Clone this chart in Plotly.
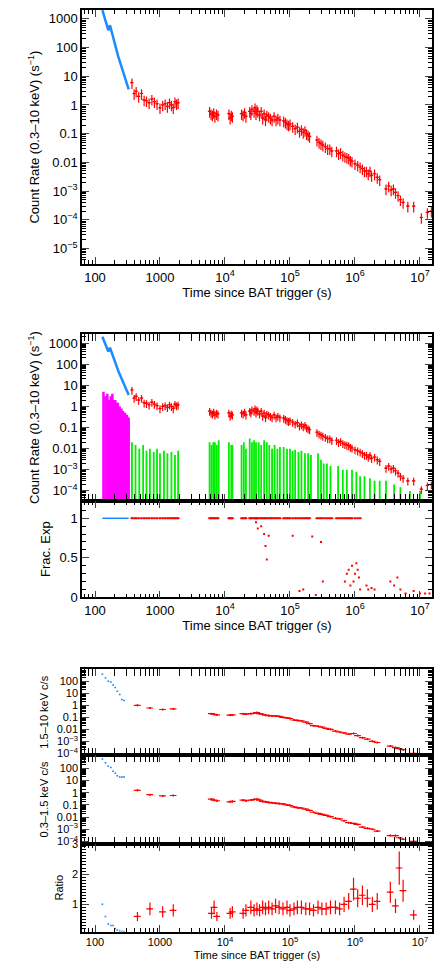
import plotly.graph_objects as go

# ---- data ----
t_wt = [130,140,150,160,170,180,190,200,215,230,250,270,290,310,330]
r_wt = [2000,1200,700,400,600,350,200,130,80,45,25,14,8,5,3.5]

t_pc = [370,400,430,470,520,570,620,680,750,820,900,1000,1100,1200,1300,1400,1500,1600,1700,1800,1900,
        5800,6100,6400,6700,7000,7400,7800, 11500,12000,12500,13000, 18000,19000,20000,21000, 24000,25000,26000,
        28000,29000,30000,31000,32000,34000,36000,38000,40000,42000,44000,47000,50000,53000,57000,61000,65000,70000,
        80000,85000,90000,95000,100000,110000,120000,130000,140000,150000,160000,170000,180000,190000,200000,
        260000,280000,300000,320000,350000,380000,410000,440000,
        520000,560000,600000,650000,700000,750000,800000,850000,900000,1000000,1100000,1200000,1300000,1400000,1500000,1600000,1700000,1800000,2000000,2200000,2400000,
        3000000,3300000,3600000,3900000,4200000,4600000,5000000,5500000,6500000,8000000,10500000,13000000,15000000]
r_pc = [6,2.5,3,2,2.5,1.5,1.4,1.2,1.6,1.3,1.1,0.8,1.0,1.1,0.9,1.2,1.0,0.8,1.3,1.1,1.2,
        0.6,0.5,0.45,0.55,0.4,0.5,0.45, 0.5,0.35,0.45,0.4, 0.5,0.45,0.55,0.4, 0.6,0.5,0.7,
        0.6,0.8,0.5,0.7,0.6,0.45,0.6,0.35,0.5,0.3,0.45,0.4,0.35,0.3,0.4,0.3,0.35,0.3,
        0.28,0.25,0.22,0.2,0.22,0.18,0.15,0.17,0.12,0.14,0.11,0.13,0.1,0.09,0.08,
        0.06,0.05,0.045,0.04,0.035,0.03,0.03,0.025,
        0.025,0.02,0.022,0.018,0.016,0.015,0.014,0.012,0.011,0.009,0.008,0.007,0.006,0.005,0.005,0.004,0.005,0.0035,0.004,0.003,0.0025,
        0.0012,0.0015,0.0011,0.0012,0.0009,0.0007,0.0005,0.0004,0.0003,0.0003,0.00012,0.00018,0.0002]

t_wbg = [135,145,155,165,175,185,195,205,215,225,240,255,270,290,310,330]
wbg_hi = [5,3,4,2,3,4,2,2,1.5,1.5,1,0.8,0.6,0.5,0.4,0.3]

t_bg = [370,420,480,550,620,700,800,900,1000,1150,1300,1500,1700,1900,
        5800,6200,6600,7000,7500,8000, 11500,12500,13000, 18000,19500,21000,
        24000,26000,28000,30000,33000,36000,40000,44000,48000,53000,58000,64000,70000,
        80000,90000,100000,110000,120000,135000,150000,170000,190000,210000,
        270000,300000,330000,370000,420000,
        550000,650000,750000,900000,1050000,1200000,1400000,1700000,2000000,2400000,
        3000000,4000000,5000000,7000000,10000000]
bg_hi = [0.02,0.015,0.01,0.015,0.008,0.01,0.007,0.01,0.006,0.008,0.006,0.007,0.005,0.008,
         0.02,0.015,0.02,0.02,0.015,0.025, 0.02,0.015,0.015, 0.015,0.02,0.01,
         0.03,0.02,0.025,0.02,0.02,0.015,0.025,0.02,0.015,0.01,0.015,0.01,0.012,
         0.012,0.01,0.01,0.008,0.009,0.007,0.008,0.006,0.006,0.005,
         0.006,0.003,0.002,0.002,0.0015,
         0.0015,0.001,0.001,0.001,0.0008,0.0005,0.0005,0.0004,0.0003,0.0003,
         0.0003,0.0002,0.00015,0.0001,0.0001]
bg_floor = 1e-5

frac_low_t = [30000,32000,36000,40000,42000,44000,47000,110000,220000,300000,320000,
              140000,160000,250000,700000,750000,800000,850000,900000,950000,1000000,1050000,1100000,1150000,1200000,
              1500000,1600000,1800000,2000000,3500000,4000000,4500000,5000000,6000000,8000000,10000000,12000000,14000000]
frac_low_v = [0.95,0.87,0.9,0.8,0.65,0.48,0.78,0.78,0.77,0.7,0.2,
              0.08,0.1,0.03,0.2,0.3,0.35,0.15,0.4,0.2,0.3,0.43,0.35,0.25,0.1,
              0.15,0.1,0.12,0.1,0.2,0.15,0.25,0.1,0.05,0.08,0.05,0.05,0.05]
frac_full = 1.0

tb_wt = [130,145,160,175,190,205,220,240,260,280]
hard_wt = [400,200,100,90,50,30,15,8,3,2.5]
soft_wt = [600,300,150,120,60,40,25,20,20,20]
ratio_wt = [1.0,0.6,0.35,0.3,0.3,0.2,0.15,0.12,0.1,0.1]

tb = [450,700,1100,1600,6200,6800,7500,12000,13000,19000,21000,25000,28000,31000,34000,38000,42000,47000,53000,60000,
      68000,78000,90000,100000,115000,130000,150000,175000,200000,230000,270000,310000,360000,420000,500000,580000,680000,
      800000,950000,1100000,1300000,1550000,1850000,2200000,3500000,4200000,4800000,5500000,8000000]
hard = [1.0,0.6,0.45,0.5,0.2,0.18,0.16,0.15,0.16,0.2,0.18,0.2,0.22,0.25,0.2,0.18,0.15,0.14,0.13,0.13,0.12,0.1,0.09,0.08,
        0.06,0.055,0.05,0.04,0.03,0.02,0.018,0.015,0.012,0.01,0.007,0.006,0.005,0.004,0.0045,0.003,0.002,0.0015,0.001,
        0.0008,0.0004,0.0003,0.00025,0.0002,0.0001]
soft = [1.6,0.7,0.55,0.6,0.3,0.25,0.22,0.18,0.2,0.25,0.22,0.25,0.28,0.3,0.25,0.2,0.18,0.16,0.15,0.14,0.13,0.12,0.1,0.09,
        0.07,0.06,0.055,0.045,0.035,0.025,0.02,0.017,0.014,0.011,0.008,0.007,0.005,0.0035,0.003,0.0025,0.0015,0.0012,
        0.001,0.0007,0.0003,0.0003,0.0002,0.00015,0.0001]
ratio = [0.6,0.85,0.75,0.8,0.7,0.9,0.6,0.7,0.75,0.7,0.8,0.9,0.8,0.85,0.8,0.9,0.85,0.9,0.85,0.95,0.9,0.85,0.9,0.8,0.85,
         0.9,0.9,0.85,0.85,0.8,0.9,0.85,0.85,0.9,0.9,0.85,1.0,1.1,1.5,1.2,1.3,1.2,1.0,1.1,1.4,0.95,2.2,1.45,0.65]

# ---- styling ----
RED = "#ff0000"; BLUE = "#1a8cff"; GREEN = "#00ee00"; MAG = "#ff00ff"
W, H = 436, 977
X0, X1 = 82/W, 432/W
def dom(top, bot): return [1-bot/H, 1-top/H]

fig = go.Figure()

def pc(xa, ya, x, y, c, ep=40, xp=6, w=1.2):
    fig.add_trace(go.Scatter(x=x, y=y, xaxis=xa, yaxis=ya, mode="markers", marker=dict(size=2, color=c),
        error_y=dict(type="percent", value=ep, color=c, thickness=w, width=0),
        error_x=dict(type="percent", value=xp, color=c, thickness=w, width=0), showlegend=False))

def bars(xa, ya, x, hi, c, w=1):
    xs, ys = [], []
    for a, b in zip(x, hi):
        xs += [a, a, None]; ys += [bg_floor, b, None]
    fig.add_trace(go.Scatter(x=xs, y=ys, xaxis=xa, yaxis=ya, mode="lines", line=dict(color=c, width=w), showlegend=False))

# panel 1
fig.add_trace(go.Scatter(x=t_wt, y=r_wt, xaxis="x", yaxis="y", mode="lines", line=dict(color=BLUE, width=2.5), showlegend=False))
pc("x", "y", t_pc, r_pc, RED)
# panel 2
bars("x2", "y2", t_wbg, wbg_hi, MAG, 2.5)
bars("x2", "y2", t_bg, bg_hi, GREEN, 1.8)
fig.add_trace(go.Scatter(x=t_wt, y=r_wt, xaxis="x2", yaxis="y2", mode="lines", line=dict(color=BLUE, width=2.5), showlegend=False))
pc("x2", "y2", t_pc, r_pc, RED)
# frac exp
fig.add_trace(go.Scatter(x=[t_wt[0], t_wt[-1]], y=[frac_full, frac_full], xaxis="x2", yaxis="y3", mode="lines", line=dict(color=BLUE, width=1.5), showlegend=False))
fpx = [t for t in t_pc if t < 1300000]
fig.add_trace(go.Scatter(x=fpx, y=[frac_full]*len(fpx), xaxis="x2", yaxis="y3", mode="markers", marker=dict(size=2, color=RED, symbol="square"),
    error_x=dict(type="percent", value=6, color=RED, thickness=1.2, width=0), showlegend=False))
fig.add_trace(go.Scatter(x=frac_low_t, y=frac_low_v, xaxis="x2", yaxis="y3", mode="markers", marker=dict(size=2, color=RED, symbol="square"), showlegend=False))
# hardness panels
for ya, wt, pcv in [("y4", hard_wt, hard), ("y5", soft_wt, soft)]:
    fig.add_trace(go.Scatter(x=tb_wt, y=wt, xaxis="x4", yaxis=ya, mode="markers", marker=dict(size=1, color=BLUE),
        error_x=dict(type="percent", value=3, color=BLUE, thickness=1.5, width=0), showlegend=False))
    pc("x4", ya, tb, pcv, RED, ep=15, xp=12)
fig.add_trace(go.Scatter(x=tb_wt, y=ratio_wt, xaxis="x4", yaxis="y6", mode="markers", marker=dict(size=1, color=BLUE),
    error_x=dict(type="percent", value=3, color=BLUE, thickness=1.5, width=0), showlegend=False))
pc("x4", "y6", tb, ratio, RED, ep=25, xp=12)

# axes
F = "Liberation Sans, Arial, sans-serif"
decs = [100, 1000, 1e4, 1e5, 1e6, 1e7]
dec_txt = ["100", "1000", "10<sup>4</sup>", "10<sup>5</sup>", "10<sup>6</sup>", "10<sup>7</sup>"]
minor_x = [m*10**e for e in range(1, 8) for m in range(2, 10)]
def xax(anchor, labels, fs, title, tfs):
    return dict(type="log", range=[1.8, 7.185], domain=[X0, X1], anchor=anchor,
        tickvals=decs, ticktext=dec_txt if labels else [""]*6, ticks="inside", ticklen=7, tickwidth=1.2,
        minor=dict(tickvals=minor_x, ticks="inside", ticklen=4, tickcolor="black", showgrid=False),
        showline=True, linecolor="black", linewidth=1.5, mirror="allticks", showgrid=False, zeroline=False,
        tickfont=dict(size=fs, family=F, color="black"),
        title=dict(text=title, font=dict(size=tfs, family=F, color="black"), standoff=4))

def yax(d, anchor, rng, vals, txt, fs, title, tfs, log=True):
    a = dict(type="log" if log else "linear", range=rng, domain=d, anchor=anchor,
        tickvals=vals, ticktext=txt, ticks="inside", ticklen=7, tickwidth=1.2,
        showline=True, linecolor="black", linewidth=1.5, mirror="allticks", showgrid=False, zeroline=False,
        tickfont=dict(size=fs, family=F, color="black"),
        title=dict(text=title, font=dict(size=tfs, family=F, color="black"), standoff=6))
    if log:
        a["minor"] = dict(tickvals=[m*10.0**e for e in range(-6, 4) for m in range(2, 10)], ticks="inside", ticklen=4, tickcolor="black", showgrid=False)
    else:
        a["minor"] = dict(dtick=0.1, ticks="inside", ticklen=4, tickcolor="black", showgrid=False)
    return a

yv1 = [1e3, 100, 10, 1, 0.1, 0.01, 1e-3, 1e-4, 1e-5]
yt1 = ["1000", "100", "10", "1", "0.1", "0.01", "10<sup>−3</sup>", "10<sup>−4</sup>", "10<sup>−5</sup>"]
CR = "Count Rate (0.3–10 keV) (s<sup>−1</sup>)"
yv4 = [100, 10, 1, 0.1, 0.01, 1e-3, 1e-4]
yt4 = ["100", "10", "1", "0.1", "0.01", "10<sup>−3</sup>", "10<sup>−4</sup>"]

fig.update_layout(
    width=W, height=H, margin=dict(l=0, r=0, t=0, b=0), plot_bgcolor="white", paper_bgcolor="white",
    xaxis=xax("y", True, 13, "Time since BAT trigger (s)", 13),
    yaxis=yax(dom(4, 262), "x", [-5.55, 3.31], yv1, yt1, 13, CR, 13),
    xaxis2=xax("y3", True, 13, "Time since BAT trigger (s)", 13),
    yaxis2=yax(dom(333, 502), "x2", [-4.47, 3.42], yv1[:8], yt1[:8], 13, CR, 13),
    yaxis3=yax(dom(502, 600), "x2", [0, 1.22], [0, 0.5, 1], ["0", "0.5", "1"], 13, "Frac. Exp", 13, log=False),
    xaxis4=xax("y6", True, 11, "Time since BAT trigger (s)", 11),
    yaxis4=yax(dom(673, 760), "x4", [-4.15, 3.0], yv4, yt4, 11, "1.5–10 keV c/s", 11),
    yaxis5=yax(dom(760, 850), "x4", [-4.2, 3.1], yv4, yt4, 11, "0.3–1.5 keV c/s", 11),
    yaxis6=yax(dom(850, 939), "x4", [0.1, 3.0], [1, 2, 3], ["1", "2", "3"], 11, "Ratio", 11, log=False),
)
fig.write_html("out.html", config={"displayModeBar": False},
               post_script="document.body.style.margin='0';document.body.style.padding='0';")
